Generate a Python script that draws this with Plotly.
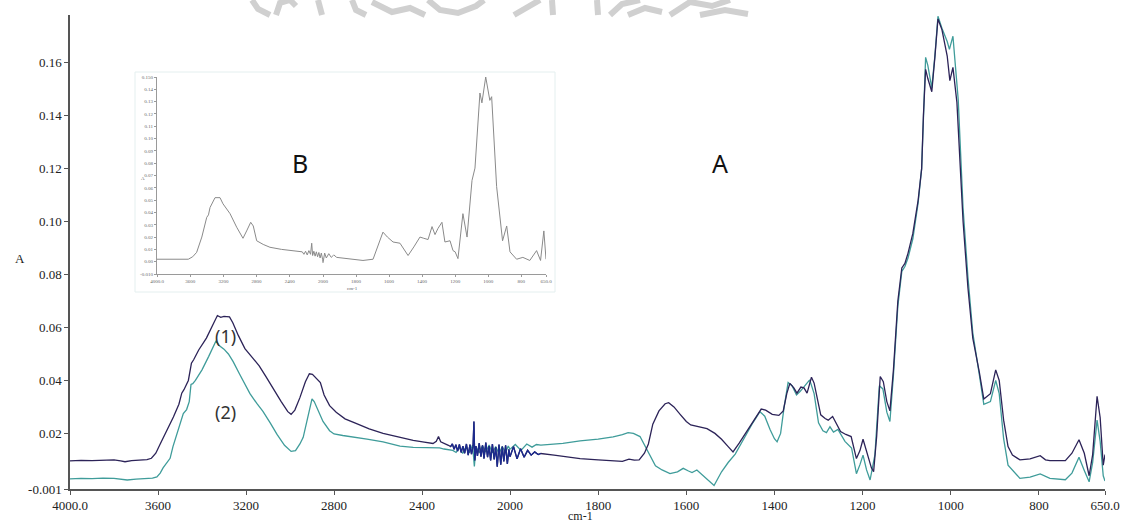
import plotly.graph_objects as go

W, H = 1121, 526

# ---- spectrum (1), dark trace ----
S1_WN = [4000, 3950, 3900, 3850, 3800, 3770, 3750, 3720, 3680, 3650, 3630, 3610, 3590, 3560, 3530, 3505,
         3492, 3482, 3462, 3448, 3438, 3415, 3380, 3345, 3330, 3315, 3300, 3275, 3260, 3235, 3205, 3170,
         3140, 3110, 3075, 3040, 3010, 2995, 2978, 2955, 2930, 2912, 2898, 2880, 2862, 2845, 2820, 2790,
         2750, 2700, 2640, 2577, 2500, 2440, 2390, 2350, 2335, 2325, 2315, 2295, 2280,
         2270, 2262, 2254, 2246, 2238, 2230, 2222, 2214, 2206, 2198, 2190, 2182, 2175, 2168, 2164, 2160,
         2155, 2148, 2140, 2132, 2125, 2118, 2110, 2102, 2095, 2088, 2080, 2072, 2065, 2058, 2050, 2042,
         2035, 2028, 2020, 2012, 2005, 2000, 1992, 1984, 1976, 1968, 1960, 1952, 1944, 1936, 1930,
         1900, 1870, 1841, 1800, 1766, 1745, 1730, 1718, 1707, 1695, 1686, 1676, 1662, 1648, 1640, 1628,
         1614, 1600, 1590, 1570, 1553, 1535, 1520, 1505, 1494, 1480, 1462, 1445, 1430, 1420, 1405, 1390,
         1380, 1372, 1365, 1356, 1349, 1340, 1333, 1326, 1316, 1310, 1302, 1295, 1285, 1278, 1268, 1260,
         1250, 1238, 1226, 1214, 1206, 1199, 1191, 1180, 1175, 1168, 1160, 1153, 1145, 1138, 1130, 1120,
         1111, 1104, 1097, 1086, 1074, 1066, 1062, 1057, 1052, 1043, 1036, 1029, 1020, 1008, 1002, 995,
         986, 979, 972, 961, 950, 935, 925, 910, 898, 890, 880, 870, 860, 843, 820, 797, 785, 775, 740,
         725, 709, 697, 686, 678, 668, 661, 654, 650]
S1_A = [0.0096, 0.0098, 0.0097, 0.0099, 0.0100, 0.0096, 0.0093, 0.0097, 0.0098, 0.0101, 0.0106, 0.0125,
        0.0160, 0.0210, 0.0262, 0.0310, 0.0352, 0.0365, 0.0400, 0.0465, 0.0478, 0.0515, 0.0560, 0.0620,
        0.0645, 0.0638, 0.0642, 0.0640, 0.0618, 0.0570, 0.0520, 0.0485, 0.0455, 0.0415, 0.0365, 0.0320,
        0.0282, 0.0272, 0.0288, 0.0335, 0.0395, 0.0425, 0.0423, 0.0408, 0.0392, 0.0345, 0.0305, 0.0280,
        0.0255, 0.0238, 0.0217, 0.0200, 0.0185, 0.0174, 0.0167, 0.0162, 0.0170, 0.0188, 0.0168, 0.0162,
        0.0155,
        0.0150, 0.0160, 0.0140, 0.0157, 0.0133, 0.0158, 0.0128, 0.0152, 0.0125, 0.0160, 0.0118, 0.0158,
        0.0122, 0.0150, 0.0245, 0.0098, 0.0152, 0.0115, 0.0163, 0.0112, 0.0155, 0.0105, 0.0165, 0.0110,
        0.0152, 0.0098, 0.0160, 0.0102, 0.0148, 0.0074, 0.0158, 0.0082, 0.0150, 0.0094, 0.0155, 0.0085,
        0.0140, 0.0112, 0.0150, 0.0104, 0.0142, 0.0110, 0.0136, 0.0118, 0.0130, 0.0120, 0.0124,
        0.0118, 0.0110, 0.0105, 0.0100, 0.0096, 0.0094, 0.0103, 0.0099, 0.0100, 0.0125, 0.0160, 0.0235,
        0.0285, 0.0312, 0.0316, 0.0300, 0.0272, 0.0245, 0.0232, 0.0223, 0.0218, 0.0200, 0.0178, 0.0150,
        0.0130, 0.0163, 0.0210, 0.0258, 0.0292, 0.0288, 0.0272, 0.0268, 0.0285, 0.0350, 0.0389, 0.0372,
        0.0352, 0.0375, 0.0372, 0.0352, 0.0412, 0.0390, 0.0320, 0.0270, 0.0256, 0.0250, 0.0264, 0.0240,
        0.0207, 0.0196, 0.0188, 0.0105, 0.0135, 0.0178, 0.0130, 0.0070, 0.0055, 0.0190, 0.0415, 0.0395,
        0.0320, 0.0285, 0.0440, 0.0700, 0.0825, 0.0842, 0.0880, 0.0955, 0.1080, 0.1200, 0.1400, 0.1575,
        0.1540, 0.1490, 0.1620, 0.1765, 0.1725, 0.1625, 0.1532, 0.1582, 0.1450, 0.1220, 0.1000, 0.0750,
        0.0560, 0.0430, 0.0330, 0.0350, 0.0440, 0.0400, 0.0250, 0.0150, 0.0118, 0.0100, 0.0104, 0.0116,
        0.0100, 0.0097, 0.0097, 0.0125, 0.0176, 0.0125, 0.0040, 0.0120, 0.0340, 0.0260, 0.0080, 0.0120]

# ---- spectrum (2), teal trace ----
S2_WN = [4000, 3950, 3900, 3850, 3800, 3760, 3740, 3700, 3660, 3625, 3605, 3590, 3577, 3560, 3545, 3532,
         3515, 3495, 3485, 3470, 3458, 3450, 3442, 3430, 3400, 3370, 3345, 3336, 3322, 3300, 3280, 3259,
         3230, 3200, 3182, 3150, 3123, 3090, 3059, 3025, 2995, 2975, 2955, 2940, 2920, 2900, 2890, 2875,
         2850, 2820, 2800, 2760, 2727, 2650, 2577, 2500, 2440, 2390, 2340, 2320, 2300, 2280,
         2260, 2245, 2230, 2215, 2200, 2185, 2170, 2162, 2155, 2140, 2125, 2110, 2095, 2080, 2065, 2050,
         2035, 2020, 2008, 2000, 1988, 1975, 1962, 1950, 1940, 1930,
         1880, 1841, 1800, 1766, 1745, 1732, 1720, 1705, 1692, 1680, 1670, 1655, 1637, 1620, 1607, 1595,
         1587, 1576, 1565, 1550, 1537, 1520, 1505, 1489, 1470, 1449, 1433, 1422, 1410, 1400, 1394, 1386,
         1378, 1369, 1360, 1350, 1342, 1332, 1320, 1310, 1300, 1290, 1282, 1274, 1266, 1256, 1240, 1225,
         1214, 1206, 1199, 1191, 1183, 1172, 1162, 1154, 1145, 1138, 1130, 1120, 1111, 1104, 1097, 1086,
         1074, 1066, 1062, 1057, 1052, 1043, 1036, 1029, 1020, 1008, 1003, 995, 983, 972, 961, 950, 935,
         925, 910, 898, 890, 880, 870, 860, 843, 820, 797, 775, 740, 725, 709, 697, 686, 678, 668, 661,
         654, 650]
S2_A = [0.0028, 0.0030, 0.0029, 0.0031, 0.0030, 0.0026, 0.0024, 0.0027, 0.0029, 0.0031, 0.0036, 0.0050,
        0.0070, 0.0090, 0.0106, 0.0150, 0.0195, 0.0245, 0.0275, 0.0290, 0.0320, 0.0385, 0.0388, 0.0400,
        0.0440, 0.0490, 0.0530, 0.0550, 0.0532, 0.0518, 0.0500, 0.0472, 0.0425, 0.0380, 0.0350, 0.0312,
        0.0283, 0.0240, 0.0196, 0.0155, 0.0132, 0.0135, 0.0160, 0.0185, 0.0260, 0.0330, 0.0320, 0.0290,
        0.0245, 0.0210, 0.0198, 0.0192, 0.0187, 0.0178, 0.0168, 0.0152, 0.0147, 0.0145, 0.0143, 0.0145,
        0.0141, 0.0139,
        0.0136, 0.0128, 0.0148, 0.0124, 0.0150, 0.0127, 0.0156, 0.0075, 0.0150, 0.0127, 0.0153, 0.0130,
        0.0156, 0.0127, 0.0150, 0.0124, 0.0150, 0.0128, 0.0152, 0.0140, 0.0158, 0.0136, 0.0160, 0.0148,
        0.0158, 0.0156,
        0.0162, 0.0172, 0.0178, 0.0187, 0.0195, 0.0203, 0.0200, 0.0188, 0.0145, 0.0105, 0.0078, 0.0062,
        0.0048, 0.0055, 0.0068, 0.0058, 0.0052, 0.0062, 0.0046, 0.0025, 0.0003, 0.0055, 0.0090, 0.0122,
        0.0180, 0.0240, 0.0282, 0.0265, 0.0215, 0.0180, 0.0168, 0.0200, 0.0300, 0.0392, 0.0380, 0.0345,
        0.0358, 0.0378, 0.0402, 0.0350, 0.0240, 0.0210, 0.0203, 0.0225, 0.0205, 0.0215, 0.0170, 0.0145,
        0.0048, 0.0082, 0.0118, 0.0062, 0.0024, 0.0120, 0.0380, 0.0368, 0.0280, 0.0245, 0.0420, 0.0680,
        0.0812, 0.0830, 0.0862, 0.0935, 0.1070, 0.1200, 0.1400, 0.1620, 0.1590, 0.1505, 0.1625, 0.1775,
        0.1730, 0.1680, 0.1650, 0.1700, 0.1460, 0.1050, 0.0790, 0.0580, 0.0420, 0.0310, 0.0320, 0.0400,
        0.0350, 0.0180, 0.0080, 0.0062, 0.0030, 0.0035, 0.0047, 0.0030, 0.0025, 0.0050, 0.0110, 0.0060,
        0.0017, 0.0090, 0.0250, 0.0170, 0.0040, 0.0020]

# ---- inset spectrum B ----
B_WN = [4000, 3800, 3700, 3623, 3570, 3522, 3460, 3401, 3380, 3361, 3301, 3241, 3205, 3120, 3040, 2964,
        2920, 2871, 2840, 2799, 2720, 2639, 2500, 2398, 2300,
        2250, 2230, 2210, 2190, 2170, 2150, 2136, 2125, 2110, 2095, 2080, 2065, 2050, 2035, 2020, 2005,
        2000, 1990, 1980, 1965, 1950, 1935, 1917,
        1840, 1758, 1697, 1660, 1637, 1610, 1576, 1534, 1485, 1450, 1413, 1390, 1364, 1340, 1322, 1304,
        1280, 1262, 1240, 1231, 1213, 1200, 1183, 1153, 1128, 1098, 1080, 1050, 1038, 1015, 990, 979,
        949, 913, 888, 868, 828, 790, 748, 707, 683, 663, 650]
B_A = [0.0020, 0.0020, 0.0018, 0.0020, 0.0040, 0.0076, 0.0200, 0.0360, 0.0380, 0.0440, 0.0520, 0.0520,
       0.0470, 0.0390, 0.0280, 0.0190, 0.0250, 0.0320, 0.0290, 0.0170, 0.0140, 0.0117, 0.0100, 0.0090,
       0.0080,
       0.0080, 0.0060, 0.0085, 0.0055, 0.0090, 0.0060, 0.0150, 0.0050, 0.0085, 0.0045, 0.0080, 0.0040,
       0.0075, 0.0030, 0.0070, 0.0020, -0.0010, 0.0070, 0.0030, 0.0065, 0.0035, 0.0055, 0.0035,
       0.0020, 0.0010, 0.0020, 0.0150, 0.0240, 0.0200, 0.0160, 0.0150, 0.0050, 0.0120, 0.0200, 0.0190,
       0.0180, 0.0285, 0.0220, 0.0270, 0.0320, 0.0160, 0.0170, 0.0170, 0.0090, 0.0080, 0.0025, 0.0390,
       0.0200, 0.0660, 0.0760, 0.1370, 0.1290, 0.1500, 0.1310, 0.1340, 0.0610, 0.0170, 0.0290, 0.0080,
       0.0020, 0.0035, 0.0010, 0.0090, 0.0010, 0.0250, 0.0020]

# ---- axis ticks ----
X_HI_TICKS = [4000, 3600, 3200, 2800, 2400]
X_HI_TEXT = ["4000.0", "3600", "3200", "2800", "2400"]
X_LO_TICKS = [2000, 1800, 1600, 1400, 1200, 1000, 800, 650]
X_LO_TEXT = ["2000", "1800", "1600", "1400", "1200", "1000", "800", "650.0"]
Y_TICKS = [-0.001, 0.02, 0.04, 0.06, 0.08, 0.10, 0.12, 0.14, 0.16]
Y_TEXT = ["-0.001", "0.02", "0.04", "0.06", "0.08", "0.10", "0.12", "0.14", "0.16"]
B_Y_TICKS = [-0.01, 0.0, 0.01, 0.02, 0.03, 0.04, 0.05, 0.06, 0.07, 0.08, 0.09, 0.10, 0.11, 0.12,
             0.13, 0.14, 0.15]
B_Y_TEXT = ["-0.010", "0.00", "0.01", "0.02", "0.03", "0.04", "0.05", "0.06", "0.07", "0.08", "0.09",
            "0.10", "0.11", "0.12", "0.13", "0.14", "0.150"]

BREAK = 2000  # the wavenumber axis doubles its scale below this value
NOISE_BAND = (1930, 2275)


def px(x):
    return x / W


def py(y):
    return 1 - y / H


def split(wn, a):
    """Cut a spectrum into the compressed (>= BREAK) and expanded (<= BREAK) parts."""
    hi = [(w, v) for w, v in zip(wn, a) if w >= BREAK]
    lo = [(w, v) for w, v in zip(wn, a) if w <= BREAK]
    return hi, lo


def add_spectrum(fig, wn, a, color, width, xa_hi, xa_lo, ya):
    hi, lo = split(wn, a)
    for part, xa in ((hi, xa_hi), (lo, xa_lo)):
        if len(part) < 2:
            continue
        fig.add_trace(go.Scatter(
            x=[p[0] for p in part], y=[p[1] for p in part], mode="lines",
            line=dict(color=color, width=width), xaxis=xa, yaxis=ya,
            hoverinfo="skip", showlegend=False))


fig = go.Figure()

# main spectra: teal below, dark on top
add_spectrum(fig, S2_WN, S2_A, "#3f9c9a", 1.3, "x", "x2", "y")
add_spectrum(fig, S1_WN, S1_A, "#2c2358", 1.3, "x", "x2", "y")
noise_wn = [w for w in S1_WN if NOISE_BAND[0] <= w <= NOISE_BAND[1]]
noise_a = [v for w, v in zip(S1_WN, S1_A) if NOISE_BAND[0] <= w <= NOISE_BAND[1]]
add_spectrum(fig, noise_wn, noise_a, "#1b2a8e", 1.3, "x", "x2", "y")

# inset spectrum
add_spectrum(fig, B_WN, B_A, "#8a8a8a", 1.0, "x3", "x4", "y2")

tick_font = dict(family="Liberation Serif", size=13, color="#222")
axis_common = dict(showline=True, linecolor="#555", linewidth=1.5, ticks="outside", ticklen=4,
                   tickcolor="#555", showgrid=False, zeroline=False, tickfont=tick_font,
                   automargin=False)

inset_font = dict(family="Liberation Serif", size=5, color="#666")
inset_common = dict(showline=True, linecolor="#9a9a9a", linewidth=1, ticks="outside", ticklen=2,
                    tickcolor="#9a9a9a", showgrid=False, zeroline=False, tickfont=inset_font,
                    automargin=False)

X0, XB, X1 = 70, 510, 1105        # main plot left edge, scale break, right edge
YT, YB = 15, 489                  # main plot top and bottom
IX0, IXB, IX1 = 157, 323, 546     # inset plot
IYT, IYB = 77, 274

fig.update_layout(
    width=W, height=H,
    margin=dict(l=0, r=0, t=0, b=0),
    paper_bgcolor="white", plot_bgcolor="white",
    xaxis=dict(domain=[px(X0), px(XB)], range=[4000, BREAK], anchor="y",
               tickvals=X_HI_TICKS, ticktext=X_HI_TEXT, **axis_common),
    xaxis2=dict(domain=[px(XB), px(X1)], range=[BREAK, 650], anchor="y",
                tickvals=X_LO_TICKS, ticktext=X_LO_TEXT, **axis_common),
    yaxis=dict(domain=[py(YB), py(YT)], range=[-0.001, 0.178], anchor="x",
               tickvals=Y_TICKS, ticktext=Y_TEXT, **axis_common),
    xaxis3=dict(domain=[px(IX0), px(IXB)], range=[4000, BREAK], anchor="y2",
                tickvals=X_HI_TICKS, ticktext=X_HI_TEXT, **inset_common),
    xaxis4=dict(domain=[px(IXB), px(IX1)], range=[BREAK, 650], anchor="y2",
                tickvals=X_LO_TICKS, ticktext=X_LO_TEXT, **inset_common),
    yaxis2=dict(domain=[py(IYB), py(IYT)], range=[-0.01, 0.15], anchor="x3",
                tickvals=B_Y_TICKS, ticktext=B_Y_TEXT, **inset_common),
)

# inset frame
fig.add_shape(type="rect", xref="paper", yref="paper", x0=px(135), x1=px(555), y0=py(292), y1=py(72),
              line=dict(color="#e4efef", width=1), fillcolor="white", layer="below")

# faint grey logo strokes along the top edge
logo_strokes = [
    [(252, 0), (258, 9), (270, 15)],
    [(276, 15), (280, 3), (290, 0), (296, 6)],
    [(318, 0), (322, 15)],
    [(352, 0), (356, 10), (366, 15)],
    [(372, 2), (392, 12), (410, 8), (425, 15)],
    [(428, 0), (440, 10), (458, 13), (476, 6), (484, 0)],
    [(514, 15), (540, 0)],
    [(552, 0), (553, 15)],
    [(597, 0), (598, 15)],
    [(610, 15), (622, 4), (640, 0)],
    [(628, 15), (645, 8), (662, 12)],
    [(670, 15), (690, 2), (712, 6), (730, 0)],
    [(700, 15), (725, 10), (748, 14)],
]
for stroke in logo_strokes:
    path = "M " + " L ".join(f"{px(x):.5f},{py(y):.5f}" for x, y in stroke)
    fig.add_shape(type="path", xref="paper", yref="paper", path=path,
                  line=dict(color="#d0d0d0", width=6), layer="below")


def label(text, x, y, size, family="Liberation Serif", color="#222"):
    fig.add_annotation(text=text, x=px(x), y=py(y), xref="paper", yref="paper", showarrow=False,
                       xanchor="center", yanchor="middle",
                       font=dict(family=family, size=size, color=color))


label("A", 20, 258, 13)
label("cm-1", 580, 516, 12)
label("A", 143, 179, 5, color="#666")
label("cm-1", 352, 288, 5, color="#666")
label("(1)", 225, 336, 18, family="Noto Sans", color="#333")
label("(2)", 225, 412, 18, family="Noto Sans", color="#333")
label("B", 300, 163, 25, family="Noto Sans", color="#111")
label("A", 720, 163, 25, family="Noto Sans", color="#111")

fig.write_html("out.html")
